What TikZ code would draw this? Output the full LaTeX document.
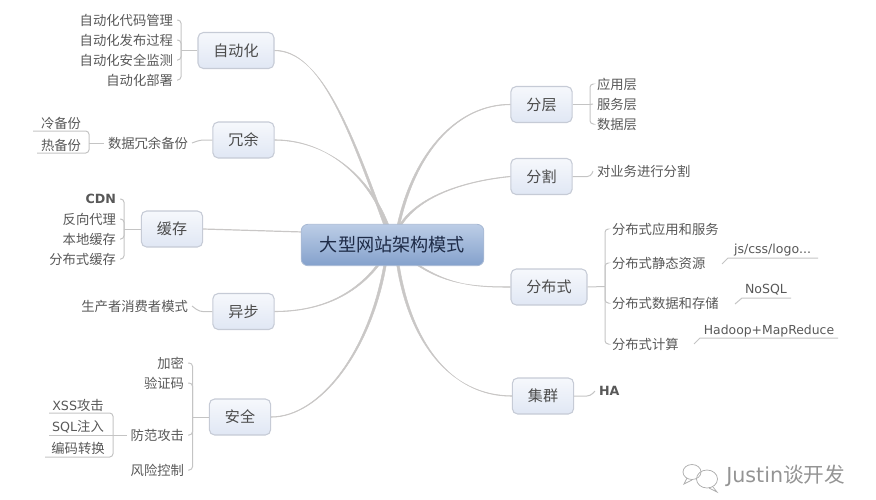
\documentclass[tikz,border=0pt]{standalone}
\usepackage{fontspec}
\setmainfont{Noto Sans CJK SC}
\newfontfamily\lat{DejaVu Sans}
\usetikzlibrary{calc,backgrounds}
\definecolor{linkgray}{HTML}{C9C7C6}
\definecolor{branchgray}{HTML}{C4C4C4}
\definecolor{leaftxt}{HTML}{585858}
\definecolor{boxline}{HTML}{C6CBD6}
\definecolor{HubLight}{HTML}{F6F8FC}
\definecolor{HubDark}{HTML}{E0E7F4}
\definecolor{HubEdge}{HTML}{A9BAD4}
\definecolor{HubTop}{HTML}{BCCDE6}
\definecolor{HubBot}{HTML}{84A1CC}
\definecolor{HubText}{HTML}{1E2B47}
\tikzset{
  x=0.75pt,y=-0.75pt,
  topic/.style={draw=boxline,line width=.8pt,rounded corners=4pt,top color=HubLight,bottom color=HubDark,text=leaftxt!85!black,font=\fontsize{11.3}{13}\selectfont,inner sep=0pt,minimum height=27pt},
  leafL/.style={anchor=east,inner ysep=0pt,inner xsep=0pt,outer xsep=3pt,outer ysep=0pt,text=leaftxt,font=\fontsize{10}{12}\selectfont},
  leafR/.style={anchor=west,inner ysep=0pt,inner xsep=0pt,outer xsep=3pt,outer ysep=0pt,text=leaftxt,font=\fontsize{10}{12}\selectfont},
  subleaf/.style={anchor=center,inner sep=0pt,text=leaftxt,font=\fontsize{10}{12}\selectfont},
  hubbox/.style={draw=HubEdge,line width=.6pt,rounded corners=5pt,top color=HubTop,bottom color=HubBot,text=HubText,
    font=\fontsize{13.6}{16}\selectfont,inner sep=0pt,minimum width=137pt,minimum height=31pt},
  link/.style={draw=linkgray,fill=linkgray,line width=.35pt},
  branch/.style={draw=branchgray,line width=.75pt,rounded corners=2.5pt},
}
% tapered connector: #1 start on hub, #2,#3 control offsets, #4 end on topic
\newcommand{\taper}[4]{%
  \draw[link] ($(#1)+(-1.3,0)$) .. controls +(#2) and +(#3) .. ($(#4)+(0,-.3)$)
     -- ($(#4)+(0,.3)$) .. controls +(#3) and +(#2) .. ($(#1)+(1.3,0)$) -- cycle;}
\begin{document}
\begin{tikzpicture}
\useasboundingbox (0,0) rectangle (876,500);
% hub and topics
\node[hubbox] (hub) at (392.5,245) {大型网站架构模式};
\node[topic,minimum width=57pt] (auto) at (236,50.5) {自动化};
\node[topic,minimum width=46pt] (redun) at (243.5,140) {冗余};
\node[topic,minimum width=46pt] (cache) at (172,229) {缓存};
\node[topic,minimum width=46pt] (async) at (243.5,311.5) {异步};
\node[topic,minimum width=46pt] (secure) at (240,417) {安全};
\node[topic,minimum width=46pt] (layer) at (541.5,104.5) {分层};
\node[topic,minimum width=46pt] (split) at (541.5,176.5) {分割};
\node[topic,minimum width=57pt] (dist) at (549,287) {分布式};
\node[topic,minimum width=46pt] (clus) at (543,396) {集群};
% hub connection points
\coordinate (h1) at ($(hub.north)+(-7.5,1)$);
\coordinate (h2) at ($(hub.north)+(-5,1)$);
\coordinate (h3) at ($(hub.north)+(6,1)$);
\coordinate (h4) at ($(hub.north)+(8,1)$);
\coordinate (h5) at ($(hub.south)+(-14.5,-1)$);
\coordinate (h6) at ($(hub.south)+(-7.5,-1)$);
\coordinate (h7) at ($(hub.south)+(5.5,-1)$);
\coordinate (h8) at ($(hub.south)+(25.5,-1)$);
\coordinate (h9) at ($(hub.west)+(2,-13)$);
\begin{scope}[on background layer]
\taper{h1}{-35,-96}{46,0}{auto.east}
\taper{h2}{-22,-56}{46,0}{redun.east}
\taper{h3}{17,-76}{-51,0}{layer.west}
\taper{h4}{20,-31}{-41,4}{split.west}
\taper{h5}{-28,36}{36,0}{async.east}
\taper{h6}{-15,86}{49,0}{secure.east}
\taper{h7}{12,76}{-62,0}{clus.west}
\taper{h8}{32,21}{-31,0}{dist.west}
\draw[link,line width=.9pt] (h9) -- (cache.east);
\end{scope}
% automation
\node[leafL] (a1) at (177,20) {自动化代码管理};
\node[leafL] (a2) at (177,40) {自动化发布过程};
\node[leafL] (a3) at (177,60) {自动化安全监测};
\node[leafL] (a4) at (177,80) {自动化部署};
\coordinate (ja) at (181,50.5);
\draw[branch] (auto.west) -- (ja);
\foreach \n in {a1,a2,a3,a4} \draw[branch] (ja) |- (\n.east);
% redundancy
\node[leafL] (r1) at (192,143) {数据冗余备份};
\draw[branch] (redun.west) -- ++(-12,0) -- (r1.east);
\node[subleaf] (rs1) at (61,123) {冷备份};
\node[subleaf] (rs2) at (61,145) {热备份};
\coordinate (ru1) at (33,131); \coordinate (ru2) at (37,153); \coordinate (rv) at (89,143);
\draw[branch] (ru1) -| (rv);
\draw[branch] (ru2) -| (rv);
\draw[branch] (rv) -- (r1.west);
% cache
\node[leafL,font=\lat\bfseries\fontsize{9.5}{12}\selectfont] (c1) at (120,199) {CDN};
\node[leafL] (c2) at (120,219) {反向代理};
\node[leafL] (c3) at (120,239) {本地缓存};
\node[leafL] (c4) at (120,259) {分布式缓存};
\coordinate (jc) at (124,229);
\draw[branch] (cache.west) -- (jc);
\foreach \n in {c1,c2,c3,c4} \draw[branch] (jc) |- (\n.east);
% async
\node[leafL] (y1) at (192,306) {生产者消费者模式};
\draw[branch] (async.west) -- ++(-13,0) -- (y1.east);
% security
\node[leafL] (s1) at (188,363) {加密};
\node[leafL] (s2) at (188,383) {验证码};
\node[leafL] (s3) at (188,435) {防范攻击};
\node[leafL] (s4) at (188,470) {风险控制};
\coordinate (js) at (192.5,417);
\draw[branch] (secure.west) -- (js);
\foreach \n in {s1,s2,s3,s4} \draw[branch] (js) |- (\n.east);
\node[subleaf] (x1) at (78,405) {{\lat\fontsize{9.5}{12}\selectfont XSS}攻击};
\node[subleaf] (x2) at (78,427) {{\lat\fontsize{9.5}{12}\selectfont SQL}注入};
\node[subleaf] (x3) at (78,448) {编码转换};
\coordinate (xu1) at (49,413); \coordinate (xu2) at (49,435); \coordinate (xu3) at (45,457); \coordinate (xv) at (113,435);
\draw[branch] (xu1) -| (xv);
\draw[branch] (xu3) -| (xv);
\draw[branch] (xu2) -- (s3.west);
% layers
\node[leafR] (l1) at (593,84) {应用层};
\node[leafR] (l2) at (593,104) {服务层};
\node[leafR] (l3) at (593,124) {数据层};
\coordinate (jl) at (590,104.5);
\draw[branch] (layer.east) -- (jl);
\draw[branch] (jl) |- (l1.west);
\draw[branch] (jl) -- (l2.west);
\draw[branch] (jl) |- (l3.west);
% split
\node[leafR] (p1) at (593,171) {对业务进行分割};
\draw[branch] (split.east) -- ++(18,0) -- (p1.west);
% distributed
\node[leafR] (d1) at (608,229) {分布式应用和服务};
\node[leafR] (d2) at (608,263) {分布式静态资源};
\node[leafR] (d3) at (608,303) {分布式数据和存储};
\node[leafR] (d4) at (608,344) {分布式计算};
\coordinate (jd) at (605,286.5);
\draw[branch] (dist.east) -- (jd);
\foreach \n in {d1,d2,d3,d4} \draw[branch] (jd) |- (\n.west);
\node[subleaf,font=\lat\fontsize{9.4}{12}\selectfont] (e1) at (772.5,250) {js/css/logo...};
\node[subleaf,font=\lat\fontsize{9.4}{12}\selectfont] (e2) at (766,290) {NoSQL};
\node[subleaf,font=\lat\fontsize{9.3}{12}\selectfont] (e3) at (769,331) {Hadoop+MapReduce};
\coordinate (e1a) at (728,258); \coordinate (e1b) at (818,258); \coordinate (e1t) at (722,264);
\coordinate (e2a) at (742,298); \coordinate (e2b) at (791,298); \coordinate (e2t) at (735,304);
\coordinate (e3a) at (700,338); \coordinate (e3b) at (838,338); \coordinate (e3t) at (694,344);
\draw[branch,rounded corners=0pt] (e1t) -- (e1a) -- (e1b);
\draw[branch,rounded corners=0pt] (e2t) -- (e2a) -- (e2b);
\draw[branch,rounded corners=0pt] (e3t) -- (e3a) -- (e3b);
% cluster
\node[leafR,font=\lat\bfseries\fontsize{9.5}{12}\selectfont] (h) at (595,391) {HA};
\draw[branch] (clus.east) -- ++(16,0) -- (h.west);
% watermark
\begin{scope}[draw=black!32,line width=.55pt]
\draw (692,472) ellipse [x radius=9,y radius=7.5];
\draw (707,479) ellipse [x radius=10.5,y radius=9];
\draw (687,478) -- (684,484) -- (692,480);
\draw (713,487) -- (717,492) -- (709,488);
\end{scope}
\node[inner sep=0pt,anchor=west,text=black!42,font=\fontsize{15.5}{18}\selectfont] (wm) at (726,476) {{\lat Justin}谈开发};
\end{tikzpicture}
\end{document}
